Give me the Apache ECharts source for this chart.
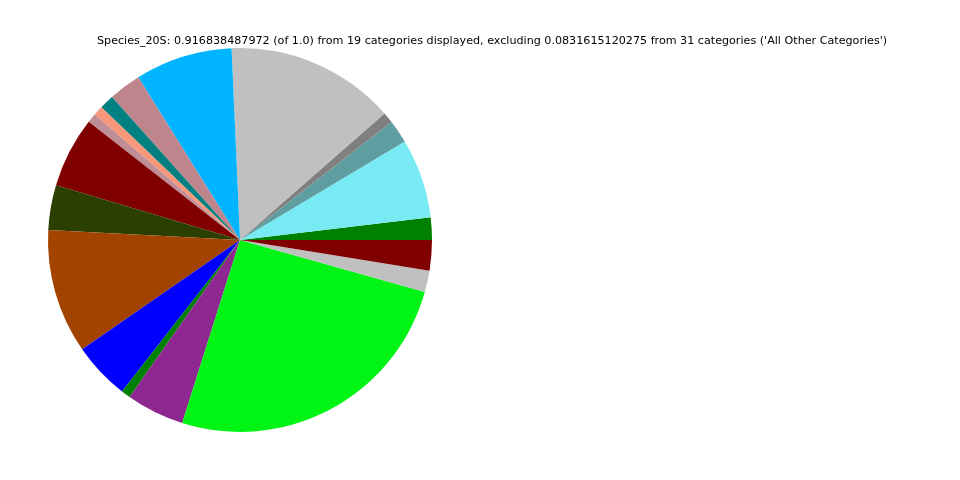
<!DOCTYPE html>
<html><head><meta charset="utf-8">
<script src="https://cdn.jsdelivr.net/npm/echarts@6/dist/echarts.min.js"></script>
<style>html,body{margin:0;padding:0;background:#fff}#c{width:960px;height:480px}</style>
</head><body><div id="c"></div>
<script>
const categories = ['C1','C2','C3','C4','C5','C6','C7','C8','C9','C10','C11','C12','C13','C14','C15','C16','C17','C18','C19'];
const values = [0.0173,0.0614,0.0178,0.0084,0.1307,0.0751,0.0250,0.0112,0.0076,0.0071,0.0545,0.0346,0.0960,0.0443,0.0071,0.0448,0.2338,0.0166,0.0234];
const colors = ['#008000','#78eaf4','#5f9ea0','#808080','#c0c0c0','#00b4ff','#bf858d','#008080','#f8977a','#c08e96','#800000','#2b4000','#a34300','#0000ff','#008000','#8e278f','#00f414','#c0c0c0','#800000'];
const titleText = "Species_20S: 0.916838487972 (of 1.0) from 19 categories displayed, excluding 0.0831615120275 from 31 categories ('All Other Categories')";

const chart = echarts.init(document.getElementById('c'), null, {renderer:'canvas'});
chart.setOption({
  animation:false,
  backgroundColor:'#ffffff',
  title:{text:titleText,left:92,top:31,textStyle:{fontFamily:'DejaVu Sans',fontSize:11.15,fontWeight:'normal',color:'#000'}},
  series:[{
    type:'pie',
    center:[240,240],
    radius:[0,192],
    startAngle:0,
    clockwise:false,
    label:{show:false},
    labelLine:{show:false},
    emphasis:{disabled:true},
    itemStyle:{borderWidth:0},
    data:categories.map((c,i)=>({name:c,value:values[i],itemStyle:{color:colors[i]}}))
  }]
});
</script></body></html>
